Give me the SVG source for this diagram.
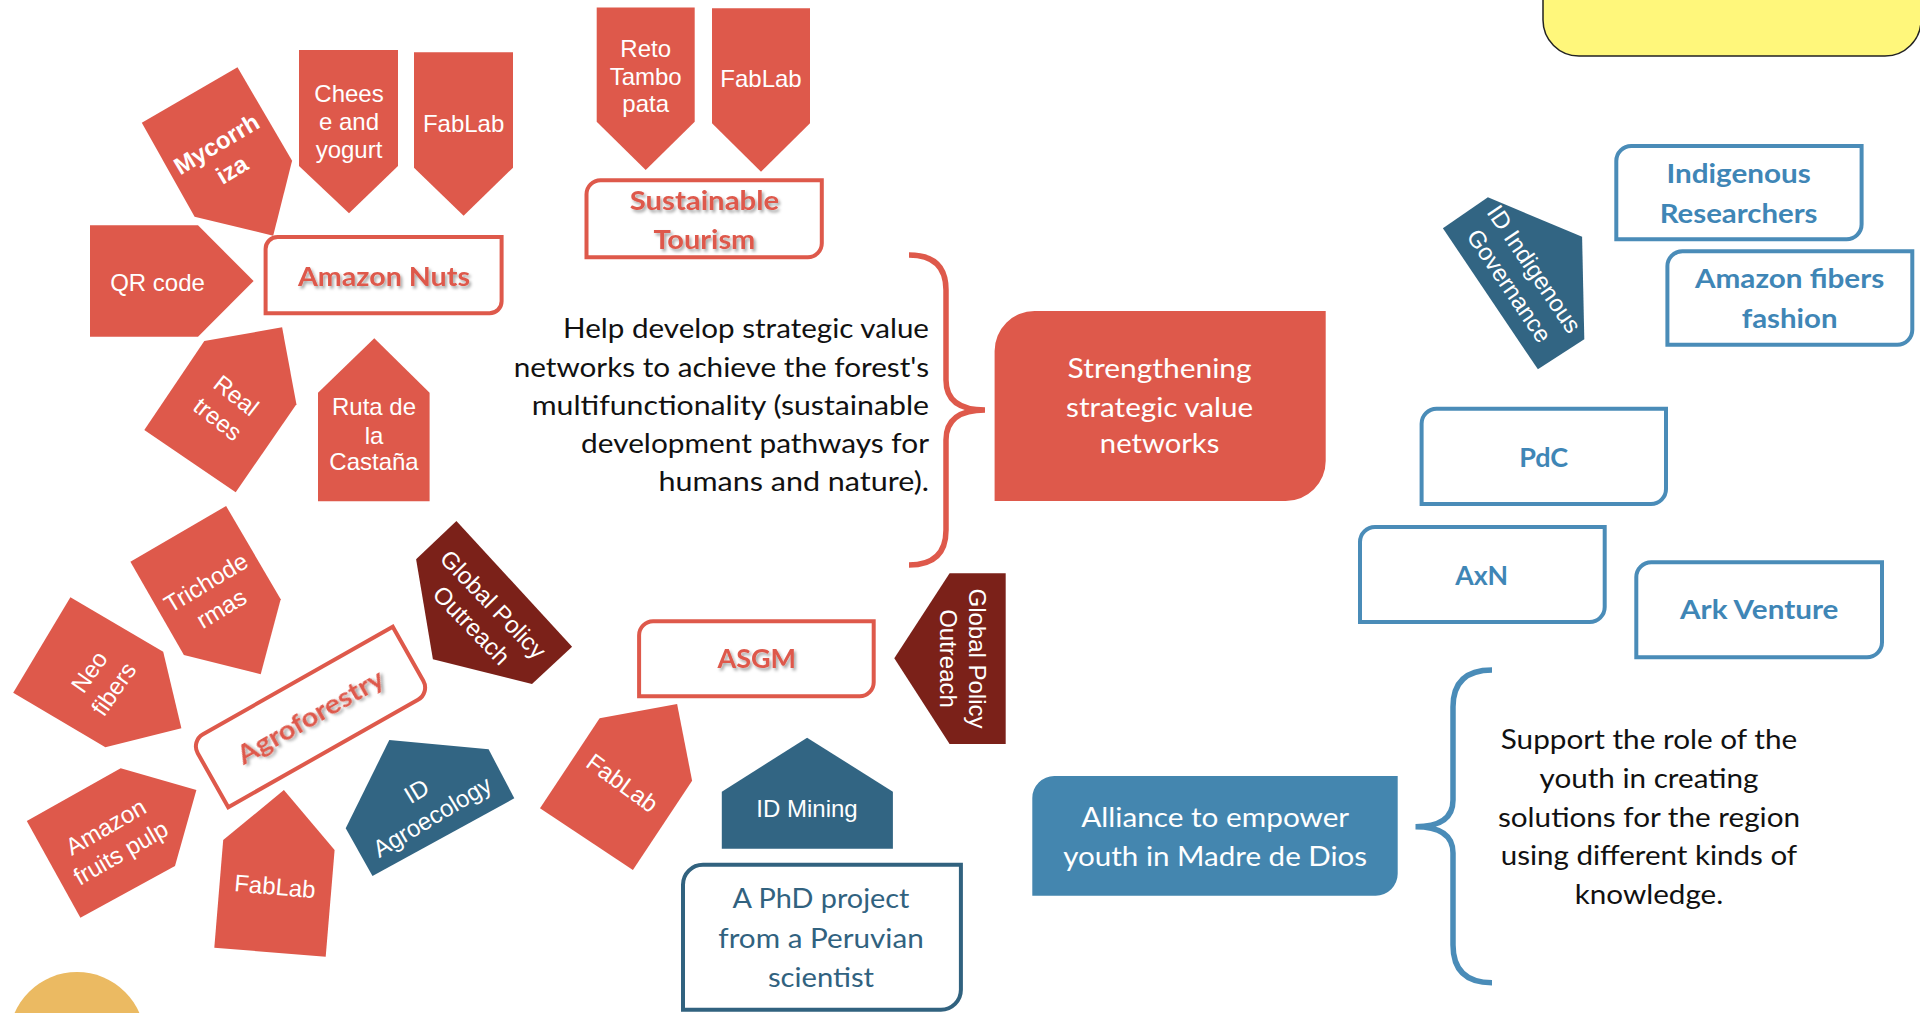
<svg xmlns="http://www.w3.org/2000/svg" width="1920" height="1013" viewBox="0 0 1920 1013">
<defs>
<filter id="sh" x="-10%" y="-30%" width="120%" height="160%">
<feDropShadow dx="2" dy="2.5" stdDeviation="1.6" flood-color="#000" flood-opacity="0.35"/>
</filter>
<style>
.red{fill:#DE594B}
.dred{fill:#7B2119}
.dblue{fill:#326583}
.w{fill:#fff;font-family:"Liberation Sans",Arial,sans-serif;font-size:24px;text-anchor:middle}
.wb{font-weight:bold}
.rbox{fill:#fff;stroke:#DE594B;stroke-width:4}
.bbox{fill:#fff;stroke:#4A8CB8;stroke-width:4}
.title{fill:#DE594B;font-family:Lato,"Open Sans",sans-serif;font-weight:bold;font-size:27px;text-anchor:middle;filter:url(#sh)}
.btitle{fill:#3F86B6;font-family:Lato,"Open Sans",sans-serif;font-weight:bold;font-size:27px;text-anchor:middle}
.body{fill:#111;font-family:Lato,"Open Sans",sans-serif;font-size:26px}
.wc{fill:#fff;font-family:Lato,"Open Sans",sans-serif;font-size:26px;text-anchor:middle}
.brace{fill:none;stroke-width:5.5}
</style>
</defs>
<rect width="1920" height="1013" fill="#fff"/>

<g id="yellow-box"><rect x="1543" y="-60" width="378" height="116" rx="36" fill="#FFF77B" stroke="#222" stroke-width="1.5"/></g>
<g id="orange-circle"><circle cx="77" cy="1040" r="68" fill="#EBBA62"/></g>

<g id="connectors">
<path class="brace" stroke="#DE594B" d="M 909,255 Q 946,255 946,290 L 946,380 Q 946,410 985,410 Q 946,410 946,440 L 946,530 Q 946,565 909,565"/>
<path class="brace" stroke="#4A8CB8" d="M 1492,670 Q 1453,670 1453,707 L 1453,800 Q 1453,826.7 1415.5,826.7 Q 1453,826.7 1453,853 L 1453,945 Q 1453,982.7 1492,982.7"/>
</g>

<g id="mycorrhiza"><polygon class="red" points="141.8,122.7 237.5,67.3 292.1,160.7 273.2,235.7 194.6,216.7"/>
<text class="w wb" transform="translate(224.4,157) rotate(-31)"><tspan x="0" y="-7">Mycorrh</tspan><tspan x="0" y="23">iza</tspan></text></g>

<g id="cheese"><polygon class="red" points="299,50 398,50 398,166 349,213.3 299,166"/>
<text class="w"><tspan x="349" y="101.7">Chees</tspan><tspan x="349" y="130">e and</tspan><tspan x="349" y="158.3">yogurt</tspan></text></g>

<g id="fablab-nuts"><polygon class="red" points="414,52.3 513,52.3 513,167.7 463.6,215.7 414,167.7"/>
<text class="w" x="463.6" y="131.7">FabLab</text></g>

<g id="qr-code"><polygon class="red" points="90,225.3 198,225.3 253.6,281 198,336.7 90,336.7"/>
<text class="w" x="157.5" y="290.7">QR code</text></g>

<g id="amazon-nuts"><path class="rbox" d="M 277.6,237 H 501.6 V 301.3 A 12 12 0 0 1 489.6,313.3 H 265.6 V 249 A 12 12 0 0 1 277.6,237 Z"/>
<text class="title" x="384" y="286" textLength="172" lengthAdjust="spacingAndGlyphs">Amazon Nuts</text></g>

<g id="real-trees"><polygon class="red" points="204.3,341 282.1,327.3 296.4,404.3 235.7,492.3 144.3,430"/>
<text class="w" transform="translate(226.8,407.5) rotate(38)"><tspan x="0" y="-7">Real</tspan><tspan x="0" y="23">trees</tspan></text></g>

<g id="ruta"><polygon class="red" points="318,392.7 374.3,338.3 429.6,392.7 429.6,501.3 318,501.3"/>
<text class="w"><tspan x="374" y="414.5">Ruta de</tspan><tspan x="374" y="443.5">la</tspan><tspan x="374" y="470">Castaña</tspan></text></g>

<g id="reto"><polygon class="red" points="596.7,7.5 694.7,7.5 694.7,121.7 645.7,170 596.7,121.7"/>
<text class="w"><tspan x="645.7" y="56.7">Reto</tspan><tspan x="645.7" y="85">Tambo</tspan><tspan x="645.7" y="112">pata</tspan></text></g>

<g id="fablab-tourism"><polygon class="red" points="712,8.3 810,8.3 810,123.3 761,171.7 712,123.3"/>
<text class="w" x="761" y="87.3">FabLab</text></g>

<g id="sustainable-tourism"><path class="rbox" d="M 600.5,180.3 H 821.8 V 243.3 A 14 14 0 0 1 807.8,257.3 H 586.5 V 194.3 A 14 14 0 0 1 600.5,180.3 Z"/>
<text class="title" x="704.4" y="210" textLength="149.5" lengthAdjust="spacingAndGlyphs">Sustainable</text>
<text class="title" x="704.4" y="249.3" textLength="102" lengthAdjust="spacingAndGlyphs">Tourism</text></g>

<g id="help-text">
<text class="body" text-anchor="end" x="929" y="337.7" textLength="365.9" lengthAdjust="spacingAndGlyphs">Help develop strategic value</text>
<text class="body" text-anchor="end" x="929" y="376.7" textLength="415.3" lengthAdjust="spacingAndGlyphs">networks to achieve the forest's</text>
<text class="body" text-anchor="end" x="929" y="415" textLength="397.3" lengthAdjust="spacingAndGlyphs">multifunctionality (sustainable</text>
<text class="body" text-anchor="end" x="929" y="453.3" textLength="347.9" lengthAdjust="spacingAndGlyphs">development pathways for</text>
<text class="body" text-anchor="end" x="929" y="490.7" textLength="270.5" lengthAdjust="spacingAndGlyphs">humans and nature).</text>
</g>

<g id="strengthening"><path class="red" d="M 1034.6,311 H 1325.7 V 461 A 40 40 0 0 1 1285.7,501 H 994.6 V 351 A 40 40 0 0 1 1034.6,311 Z"/>
<text class="wc" x="1159.6" y="378.3" textLength="184" lengthAdjust="spacingAndGlyphs">Strengthening</text>
<text class="wc" x="1159.6" y="416.7" textLength="187" lengthAdjust="spacingAndGlyphs">strategic value</text>
<text class="wc" x="1159.6" y="453.3" textLength="119.5" lengthAdjust="spacingAndGlyphs">networks</text></g>

<g id="trichodermas"><polygon class="red" points="130.4,561.7 226.1,506 280.7,599.3 260.7,674.3 183.9,655"/>
<text class="w" transform="translate(213.8,595.8) rotate(-31)"><tspan x="0" y="-7">Trichode</tspan><tspan x="0" y="23">rmas</tspan></text></g>

<g id="neo-fibers"><polygon class="red" points="13.2,692.7 70.4,597.3 163.2,651.7 181.4,728.3 105.4,747.3"/>
<text class="w" transform="translate(101.8,680.5) rotate(-55)"><tspan x="0" y="-7">Neo</tspan><tspan x="0" y="23">fibers</tspan></text></g>

<g id="global-policy-1"><polygon class="dred" points="456.4,521 572.1,646.7 532,684 432.9,659.3 416.1,559.3"/>
<text class="w" transform="translate(482.1,615) rotate(46)"><tspan x="0" y="-7">Global Policy</tspan><tspan x="0" y="23">Outreach</tspan></text></g>

<g id="agroforestry"><g transform="translate(310.5,717) rotate(-29.5)">
<path class="rbox" d="M -102,-38 H 116 V 24 A 14 14 0 0 1 102,38 H -116 V -24 A 14 14 0 0 1 -102,-38 Z"/>
<text class="title" x="0" y="9.5" textLength="164" lengthAdjust="spacingAndGlyphs">Agroforestry</text></g></g>

<g id="id-agroecology"><polygon class="dblue" points="345.7,828.3 389.3,740 488.6,749.3 514.3,798.3 372.5,876"/>
<text class="w" transform="translate(424.5,804.2) rotate(-31)"><tspan x="0" y="-7">ID</tspan><tspan x="0" y="23">Agroecology</tspan></text></g>

<g id="amazon-fruits"><polygon class="red" points="26.8,821 120.7,768.3 196.4,790 175,866 80.4,917.7"/>
<text class="w" transform="translate(113.4,840) rotate(-30)"><tspan x="0" y="-7">Amazon</tspan><tspan x="0" y="23">fruits pulp</tspan></text></g>

<g id="fablab-agro"><polygon class="red" points="223.2,840 283.9,790 334.6,850 325.7,956.7 214.3,947.7"/>
<text class="w" transform="translate(275,886.7) rotate(5)" x="0" y="8">FabLab</text></g>

<g id="asgm"><path class="rbox" d="M 653.1,621.3 H 873.7 V 682.3 A 14 14 0 0 1 859.7,696.3 H 639.1 V 635.3 A 14 14 0 0 1 653.1,621.3 Z"/>
<text class="title" x="756.8" y="668.3" textLength="78.6" lengthAdjust="spacingAndGlyphs">ASGM</text></g>

<g id="fablab-asgm"><polygon class="red" points="599.6,718.3 677.1,704 692.1,780.7 632.9,870 540,808.3"/>
<text class="w" transform="translate(622.1,783.3) rotate(36)" x="0" y="8">FabLab</text></g>

<g id="id-mining"><polygon class="dblue" points="721.8,791.7 807.1,737.7 892.9,791.7 892.9,848.7 721.8,848.7"/>
<text class="w" x="807" y="816.7">ID Mining</text></g>

<g id="global-policy-2"><polygon class="dred" points="894.3,658.3 949.6,573.3 1005.7,573.3 1005.7,744 949.6,744"/>
<text class="w" transform="translate(962.5,658.5) rotate(90)"><tspan x="0" y="-6.5">Global Policy</tspan><tspan x="0" y="22.5">Outreach</tspan></text></g>

<g id="phd"><path fill="#fff" stroke="#31627F" stroke-width="4" d="M 703,864.7 H 960.9 V 989.7 A 20 20 0 0 1 940.9,1009.7 H 683 V 884.7 A 20 20 0 0 1 703,864.7 Z"/>
<text class="wc" style="fill:#31627F" x="821" y="908.3" textLength="176.8" lengthAdjust="spacingAndGlyphs">A PhD project</text>
<text class="wc" style="fill:#31627F" x="821" y="948.3" textLength="205.4" lengthAdjust="spacingAndGlyphs">from a Peruvian</text>
<text class="wc" style="fill:#31627F" x="821" y="986.7" textLength="106.1" lengthAdjust="spacingAndGlyphs">scientist</text></g>

<g id="id-governance"><polygon class="dblue" points="1442.9,228.3 1487.9,197.3 1582.1,236.7 1584.3,339.3 1537.9,369.3"/>
<text class="w" transform="translate(1521.5,277.5) rotate(56)"><tspan x="0" y="-7">ID Indigenous</tspan><tspan x="0" y="23">Governance</tspan></text></g>

<g id="indigenous-researchers"><path class="bbox" d="M 1631.3,146 H 1861.6 V 224.3 A 15 15 0 0 1 1846.6,239.3 H 1616.3 V 161 A 15 15 0 0 1 1631.3,146 Z"/>
<text class="btitle" x="1738.6" y="182.7" textLength="144.3" lengthAdjust="spacingAndGlyphs">Indigenous</text>
<text class="btitle" x="1738.6" y="222.7" textLength="157.9" lengthAdjust="spacingAndGlyphs">Researchers</text></g>

<g id="amazon-fibers"><path class="bbox" d="M 1682.4,251.3 H 1912.3 V 329.7 A 15 15 0 0 1 1897.3,344.7 H 1667.4 V 266.3 A 15 15 0 0 1 1682.4,251.3 Z"/>
<text class="btitle" x="1789.6" y="288.3" textLength="189.3" lengthAdjust="spacingAndGlyphs">Amazon fibers</text>
<text class="btitle" x="1789.6" y="328.3" textLength="95.7" lengthAdjust="spacingAndGlyphs">fashion</text></g>

<g id="pdc"><path class="bbox" d="M 1436.6,408.7 H 1666 V 489 A 15 15 0 0 1 1651,504 H 1421.6 V 423.7 A 15 15 0 0 1 1436.6,408.7 Z"/>
<text class="btitle" x="1543.7" y="467.3" textLength="49" lengthAdjust="spacingAndGlyphs">PdC</text></g>

<g id="axn"><path class="bbox" d="M 1375,527 H 1604.7 V 607 A 15 15 0 0 1 1589.7,622 H 1360 V 542 A 15 15 0 0 1 1375,527 Z"/>
<text class="btitle" x="1481.7" y="585" textLength="53" lengthAdjust="spacingAndGlyphs">AxN</text></g>

<g id="ark-venture"><path class="bbox" d="M 1651.3,562.3 H 1882 V 642.3 A 15 15 0 0 1 1867,657.3 H 1636.3 V 577.3 A 15 15 0 0 1 1651.3,562.3 Z"/>
<text class="btitle" x="1759.2" y="619.3" textLength="158.3" lengthAdjust="spacingAndGlyphs">Ark Venture</text></g>

<g id="alliance"><path fill="#4486AF" d="M 1054.3,776 H 1397.7 V 873.7 A 22 22 0 0 1 1375.7,895.7 H 1032.3 V 798 A 22 22 0 0 1 1054.3,776 Z"/>
<text class="wc" x="1215.2" y="826.7" textLength="268" lengthAdjust="spacingAndGlyphs">Alliance to empower</text>
<text class="wc" x="1215.2" y="866" textLength="304" lengthAdjust="spacingAndGlyphs">youth in Madre de Dios</text></g>

<g id="support-text">
<text class="body" text-anchor="middle" x="1649" y="749.3" textLength="296.4" lengthAdjust="spacingAndGlyphs">Support the role of the</text>
<text class="body" text-anchor="middle" x="1649" y="788" textLength="218.9" lengthAdjust="spacingAndGlyphs">youth in creating</text>
<text class="body" text-anchor="middle" x="1649" y="826.7" textLength="302.2" lengthAdjust="spacingAndGlyphs">solutions for the region</text>
<text class="body" text-anchor="middle" x="1649" y="865.3" textLength="296.4" lengthAdjust="spacingAndGlyphs">using different kinds of</text>
<text class="body" text-anchor="middle" x="1649" y="904" textLength="148.5" lengthAdjust="spacingAndGlyphs">knowledge.</text>
</g>
</svg>
